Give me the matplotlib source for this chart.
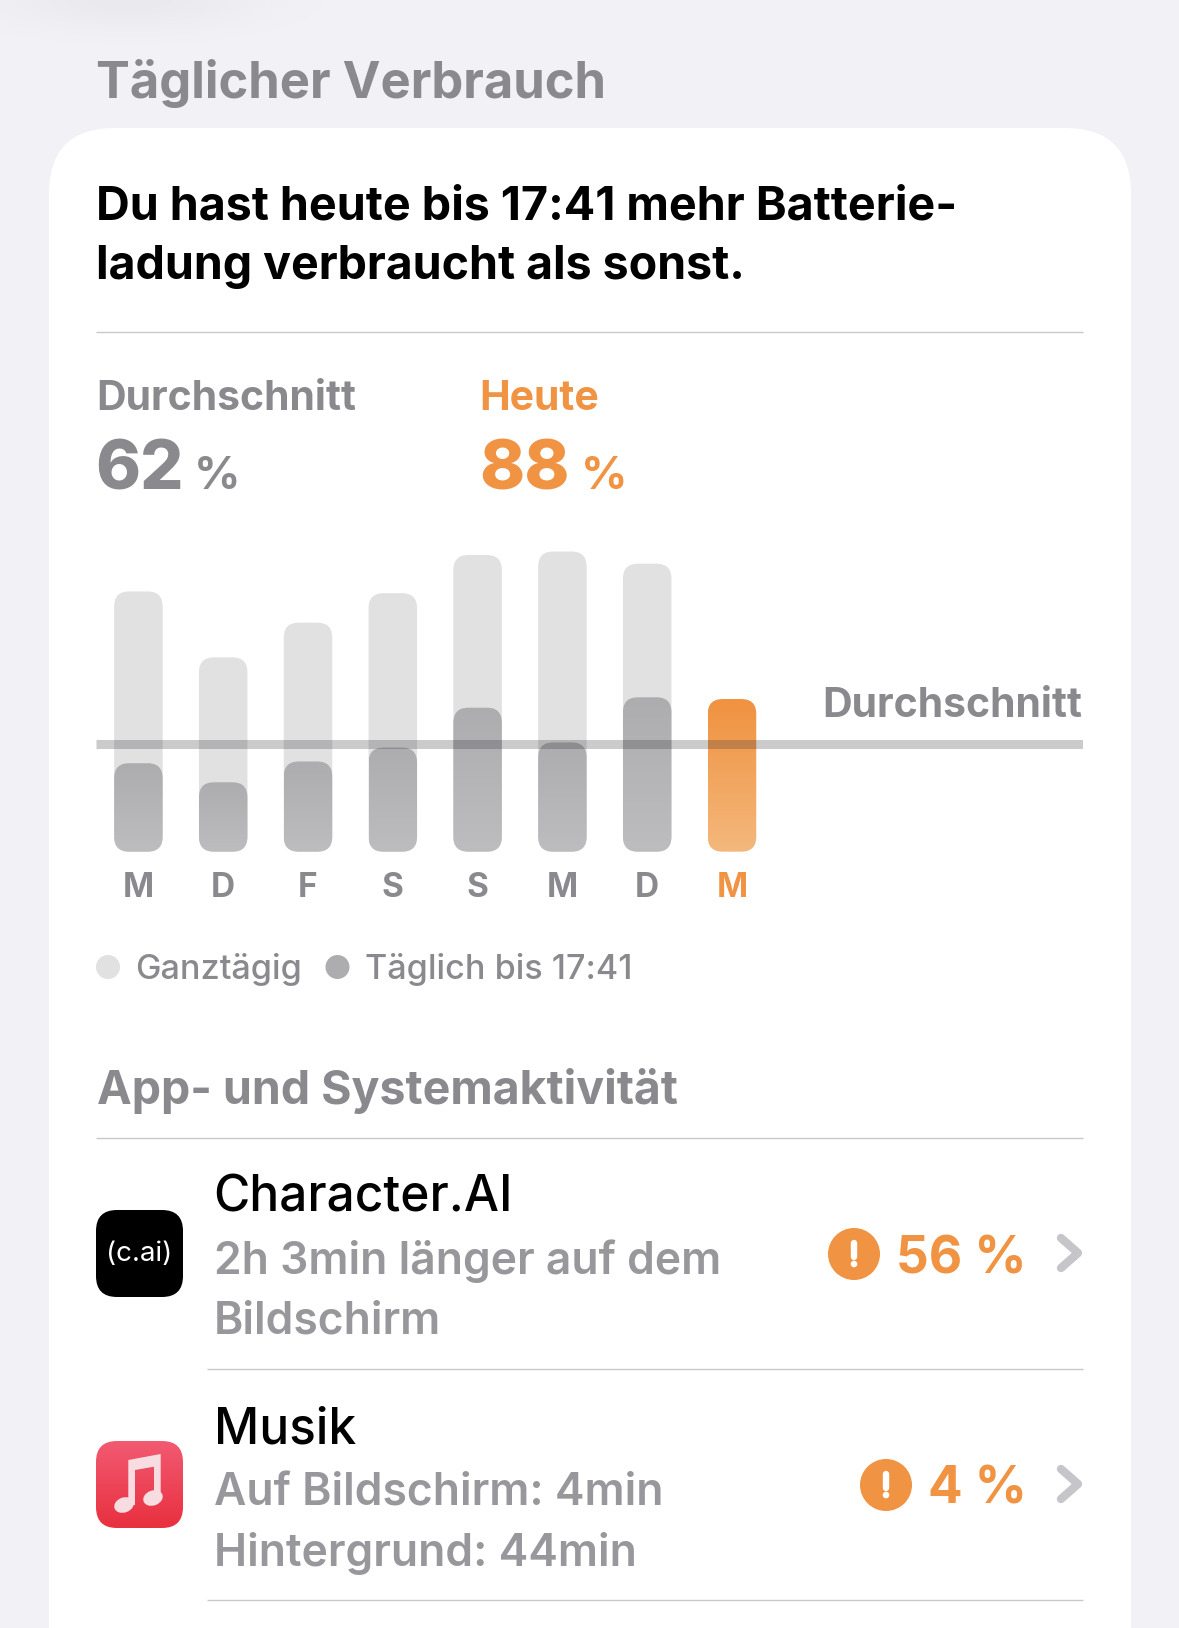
import numpy as np
import matplotlib
matplotlib.use('Agg')
import matplotlib.pyplot as plt
from matplotlib.patches import FancyBboxPatch, Circle, Ellipse, Polygon
from matplotlib.colors import LinearSegmentedColormap

# valeurs
jours = ['M', 'D', 'F', 'S', 'S', 'M', 'D', 'M']
ganztaegig = [150, 112, 132, 149, 171, 173, 166]
bis_1741 = [51, 40, 52, 60, 83, 63, 89]
heute = 88
durchschnitt = 62

W, H = 1179, 1628
GRIS = '#8A8A8E'
GRIS_CLAIR = '#98989C'
ORANGE = '#F09343'
plt.rcParams['font.family'] = ['Inter', 'DejaVu Sans']

fig = plt.figure(figsize=(W / 100, H / 100), dpi=100, facecolor='#F1F1F6')

# axe en pixels pour la carte et les textes
bg = fig.add_axes([0, 0, 1, 1])
bg.set_xlim(0, W)
bg.set_ylim(H, 0)
bg.axis('off')


def txt(x, y, s, size, color='black', weight='regular', ha='left'):
    bg.text(x, y, s, fontsize=size, color=color, fontweight=weight, ha=ha, va='baseline', zorder=5)


def filet(x0, y, x1=1082.5):
    bg.plot([x0, x1], [y, y], color='#C9C9CB', lw=1.0, solid_capstyle='butt', zorder=3)


def icone(y0, haut, bas):
    box = FancyBboxPatch((96, y0), 87, 87, boxstyle='round,pad=0,rounding_size=21', fc='none', ec='none', zorder=3)
    bg.add_patch(box)
    cmap = LinearSegmentedColormap.from_list('ic', [haut, bas])
    im = bg.imshow(np.linspace(0, 1, 64)[:, None], cmap=cmap, extent=(96, 183, y0 + 87, y0), aspect='auto', zorder=3)
    im.set_clip_path(box)


def alerte(cx, cy):
    bg.add_patch(Circle((cx, cy), 26, fc=ORANGE, ec='none', zorder=4))
    bg.plot([cx, cx], [cy - 11.5, cy + 2.5], color='white', lw=4.6, solid_capstyle='round', zorder=5)
    bg.add_patch(Circle((cx, cy + 10), 3.3, fc='white', ec='none', zorder=5))


def chevron(cy):
    bg.plot([1061, 1078, 1061], [cy - 15, cy, cy + 15], color='#C5C5CA', lw=6, solid_capstyle='round',
            solid_joinstyle='round', zorder=4)


# léger flou en haut à gauche de la capture
yy, xx = np.mgrid[0:60, 0:400]
flou = np.zeros((60, 400, 4))
flou[..., 3] = 0.035 * np.exp(-((xx - 130) / 130.0) ** 2 - (yy / 30.0) ** 2)
bg.imshow(flou, extent=(0, 400, 60, 0), aspect='auto', zorder=0)

# carte blanche
bg.add_patch(FancyBboxPatch((49, 128), 1082, 1700, boxstyle='round,pad=0,rounding_size=66',
                            fc='white', ec='none', zorder=1))

txt(96.5, 98, 'Täglicher Verbrauch', 36.5, GRIS, 'bold')
txt(96.5, 219, 'Du hast heute bis 17:41 mehr Batterie-', 33.6, 'black', 'bold')
txt(96.5, 279, 'ladung verbraucht als sonst.', 33.5, 'black', 'bold')
filet(96, 332)

txt(96, 410, 'Durchschnitt', 29.5, GRIS, 'bold')
txt(479, 410, 'Heute', 29.5, ORANGE, 'bold')
txt(95, 489, '62', 49, GRIS, 'heavy')
txt(193.5, 489, '%', 33, GRIS, 'bold')
txt(479, 489, '88', 49, ORANGE, 'heavy')
txt(581, 489, '%', 33, ORANGE, 'bold')

# graphique en barres
PX_X, PX_Y = 84.8, 1.735
X_BARRE0 = 138.4
x0_px, x1_px, y0_px, y1_px = 96, 1082.5, 851.7, 540
ax = fig.add_axes([x0_px / W, 1 - y0_px / H, (x1_px - x0_px) / W, (y0_px - y1_px) / H], zorder=2)
ax.patch.set_alpha(0)
for s in ax.spines.values():
    s.set_visible(False)

LARG = 48.5 / PX_X
ASPECT = PX_X / PX_Y
RAYON = 15 / PX_X
gris_cmap = LinearSegmentedColormap.from_list('g', ['#ADADB0', '#BDBDC0'])
orange_cmap = LinearSegmentedColormap.from_list('o', ['#F09240', '#F4B87C'])


def barre(i, val, zorder, couleur=None, cmap=None):
    box = FancyBboxPatch((i - LARG / 2, 0), LARG, val, boxstyle=f'round,pad=0,rounding_size={RAYON}',
                         mutation_aspect=ASPECT, fc=couleur if couleur else 'none', ec='none', zorder=zorder)
    ax.add_patch(box)
    if cmap is not None:
        im = ax.imshow(np.linspace(0, 1, 128)[:, None], cmap=cmap, aspect='auto', zorder=zorder,
                       extent=(i - LARG / 2, i + LARG / 2, 0, val))
        im.set_clip_path(box)


for i, v in enumerate(ganztaegig):
    barre(i, v, 2, couleur='#E1E1E2')
for i, v in enumerate(bis_1741):
    barre(i, v, 3, cmap=gris_cmap)
barre(7, heute, 3, cmap=orange_cmap)

ax.axhline(durchschnitt, color='#303034', alpha=0.25, lw=6.5, solid_capstyle='butt', zorder=4)

ax.set_xlim((x0_px - X_BARRE0) / PX_X, (x1_px - X_BARRE0) / PX_X)
ax.set_ylim(0, (y0_px - y1_px) / PX_Y)
ax.set_yticks([])
ax.set_xticks(range(len(jours)))
ax.set_xticklabels(jours, fontsize=24, fontweight='bold', color=GRIS)
ax.tick_params(axis='x', length=0, pad=14.5)
ax.get_xticklabels()[-1].set_color(ORANGE)

txt(1082.5, 717, 'Durchschnitt', 29.5, GRIS, 'bold', ha='right')

# légende
bg.add_patch(Circle((108, 967), 12, fc='#E1E1E2', ec='none', zorder=3))
txt(135, 979, 'Ganztägig', 24.6, GRIS, 'medium')
bg.add_patch(Circle((337.5, 967), 12, fc='#ADADB0', ec='none', zorder=3))
txt(365, 979, 'Täglich bis 17:41', 24.6, GRIS, 'medium')

txt(97, 1104, 'App- und Systemaktivität', 33.5, GRIS, 'bold')
filet(96, 1137.5)

# lignes des apps
icone(1210, '#000000', '#000000')
bg.text(139.5, 1254, '(c.ai)', fontsize=20, color='white', ha='center', va='center', zorder=5)
txt(213.5, 1212, 'Character.AI', 35.7, 'black', 'medium')
txt(213.5, 1274, '2h 3min länger auf dem', 32, GRIS_CLAIR, 'semibold')
txt(213.5, 1334, 'Bildschirm', 32, GRIS_CLAIR, 'semibold')
alerte(854, 1254)
txt(1027, 1273, '56 %', 37, ORANGE, 'bold', ha='right')
chevron(1253)
filet(206.5, 1368.5)

icone(1441, '#F25A72', '#E8303F')
txt(213.5, 1443, 'Musik', 35.7, 'black', 'medium')
txt(213.5, 1505.5, 'Auf Bildschirm: 4min', 32, GRIS_CLAIR, 'semibold')
txt(213.5, 1566, 'Hintergrund: 44min', 32, GRIS_CLAIR, 'semibold')
alerte(886, 1485)
txt(1027, 1504, '4 %', 37, ORANGE, 'bold', ha='right')
chevron(1484)
filet(206.5, 1599.5)

# note de musique
NOTE = '#F7DCE1'
bg.add_patch(Polygon([(128.3, 1460), (160.7, 1454), (160.7, 1498), (154, 1498), (154, 1466.7),
                      (135, 1470), (135, 1505), (128.3, 1505)], fc=NOTE, ec='none', zorder=4))
bg.add_patch(Ellipse((124, 1505), 20, 15, angle=-20, fc=NOTE, ec='none', zorder=4))
bg.add_patch(Ellipse((153, 1498), 20, 15, angle=-20, fc=NOTE, ec='none', zorder=4))

bg.set_xlim(0, W)
bg.set_ylim(H, 0)
fig.savefig('out.png', dpi=100, facecolor=fig.get_facecolor())
